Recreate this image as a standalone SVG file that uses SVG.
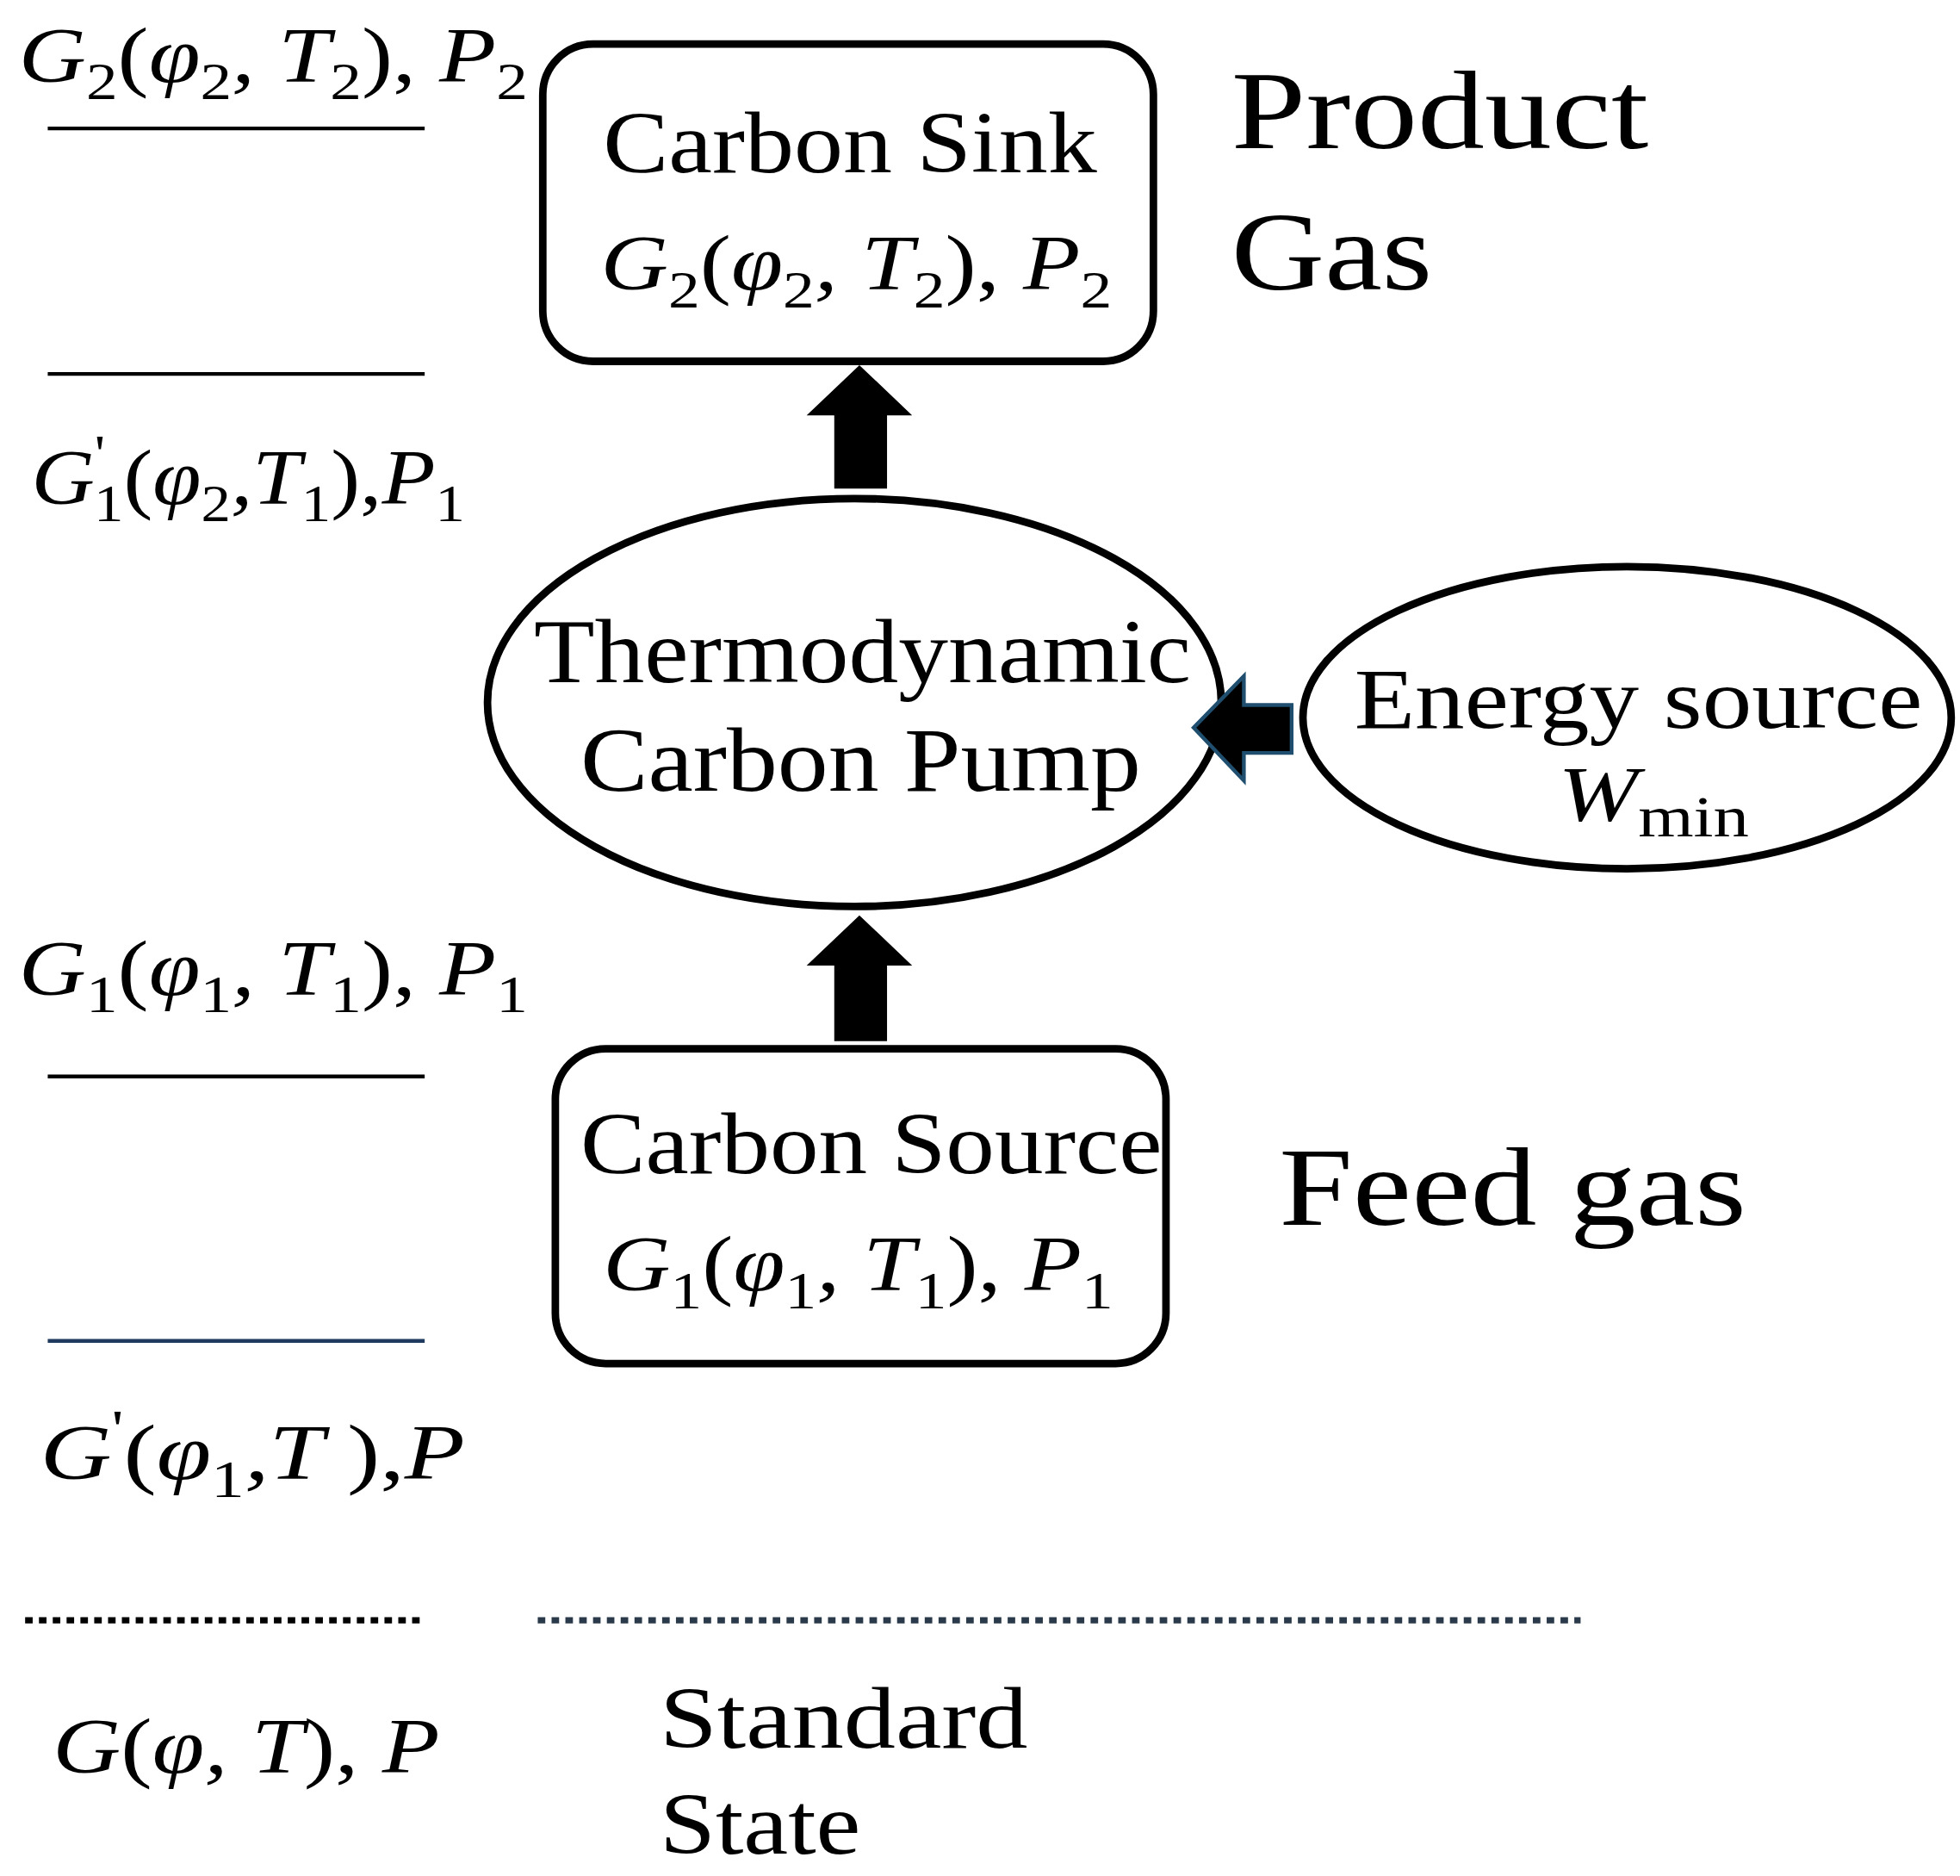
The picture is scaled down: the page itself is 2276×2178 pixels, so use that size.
<svg xmlns="http://www.w3.org/2000/svg" width="2276" height="2178" viewBox="0 0 2276 2178">
<style>
text{font-family:"Liberation Serif","DejaVu Serif",serif;fill:#000}
.m{font-style:italic;font-size:62px}
.s{font-size:42px;font-style:normal}
.n{font-style:normal}
.big{font-size:88px}
.node{fill:#fff;stroke:#000;stroke-width:6}
</style>
<rect width="2276" height="2178" fill="#fff"/>
<g transform="scale(1.459,1.4617)">
<g id="levels" stroke-width="3">
<line x1="38" y1="102" x2="338" y2="102" stroke="#000"/>
<line x1="38" y1="297" x2="338" y2="297" stroke="#000"/>
<line x1="38" y1="855" x2="338" y2="855" stroke="#000"/>
<line x1="38" y1="1065" x2="338" y2="1065" stroke="#1f3a5f"/>
<line x1="20" y1="1287" x2="338" y2="1287" stroke="#000" stroke-width="5" stroke-dasharray="6,5"/>
<line x1="428" y1="1287" x2="1258" y2="1287" stroke="#2a3a4a" stroke-width="5" stroke-dasharray="6,5"/>
</g>
<g id="level-labels">
<text x="15" y="65" class="m" textLength="405" lengthAdjust="spacingAndGlyphs">G<tspan class="s" dy="14">2</tspan><tspan class="n" dy="-14">(</tspan>φ<tspan class="s" dy="14">2</tspan><tspan dy="-14">, T</tspan><tspan class="s" dy="14">2</tspan><tspan class="n" dy="-14">), </tspan>P<tspan class="s" dy="14">2</tspan></text>
<text x="25" y="400" class="m" textLength="345" lengthAdjust="spacingAndGlyphs">G<tspan class="s" dy="-26">'</tspan><tspan class="s" dx="-8" dy="40">1</tspan><tspan class="n" dy="-14">(</tspan>φ<tspan class="s" dy="14">2</tspan><tspan dy="-14">,T</tspan><tspan class="s" dy="14">1</tspan><tspan class="n" dy="-14">),</tspan>P<tspan class="s" dy="14">1</tspan></text>
<text x="15" y="790" class="m" textLength="405" lengthAdjust="spacingAndGlyphs">G<tspan class="s" dy="14">1</tspan><tspan class="n" dy="-14">(</tspan>φ<tspan class="s" dy="14">1</tspan><tspan dy="-14">, T</tspan><tspan class="s" dy="14">1</tspan><tspan class="n" dy="-14">), </tspan>P<tspan class="s" dy="14">1</tspan></text>
<text x="32" y="1175" class="m" textLength="338" lengthAdjust="spacingAndGlyphs">G<tspan class="s" dy="-26">'</tspan><tspan class="n" dy="26">(</tspan>φ<tspan class="s" dy="14">1</tspan><tspan dy="-14">,T </tspan><tspan class="n">),</tspan>P</text>
<text x="42" y="1408" class="m" textLength="308" lengthAdjust="spacingAndGlyphs">G<tspan class="n">(</tspan>φ, T<tspan class="n">), </tspan>P</text>
</g>
<g id="sink">
<rect x="432" y="35" width="486" height="252" rx="40" class="node"/>
<text x="480" y="137" font-size="70" textLength="393" lengthAdjust="spacingAndGlyphs">Carbon Sink</text>
<text x="478" y="230" class="m" font-size="64" textLength="407" lengthAdjust="spacingAndGlyphs">G<tspan class="s" dy="14">2</tspan><tspan class="n" dy="-14">(</tspan>φ<tspan class="s" dy="14">2</tspan><tspan dy="-14">, T</tspan><tspan class="s" dy="14">2</tspan><tspan class="n" dy="-14">), </tspan>P<tspan class="s" dy="14">2</tspan></text>
</g>
<g id="pump">
<ellipse cx="680" cy="558" rx="292" ry="162" class="node" stroke-width="7"/>
<text x="425" y="542" font-size="72" textLength="523" lengthAdjust="spacingAndGlyphs">Thermodynamic</text>
<text x="462" y="628" font-size="72" textLength="446" lengthAdjust="spacingAndGlyphs">Carbon Pump</text>
</g>
<g id="energy">
<ellipse cx="1295" cy="570" rx="258" ry="120" class="node" stroke-width="5"/>
<text x="1078" y="578" font-size="68" textLength="452" lengthAdjust="spacingAndGlyphs">Energy source</text>
<text x="1240" y="652" class="m" font-size="68" textLength="152" lengthAdjust="spacingAndGlyphs">W<tspan class="n" font-size="46" dy="12">min</tspan></text>
</g>
<g id="source">
<rect x="442" y="833" width="486" height="250" rx="40" class="node"/>
<text x="462" y="932" font-size="70" textLength="463" lengthAdjust="spacingAndGlyphs">Carbon Source</text>
<text x="480" y="1025" class="m" font-size="64" textLength="406" lengthAdjust="spacingAndGlyphs">G<tspan class="s" dy="14">1</tspan><tspan class="n" dy="-14">(</tspan>φ<tspan class="s" dy="14">1</tspan><tspan dy="-14">, T</tspan><tspan class="s" dy="14">1</tspan><tspan class="n" dy="-14">), </tspan>P<tspan class="s" dy="14">1</tspan></text>
</g>
<g id="side-labels">
<text x="980" y="118" class="big" textLength="332" lengthAdjust="spacingAndGlyphs">Product</text>
<text x="980" y="230" class="big" textLength="160" lengthAdjust="spacingAndGlyphs">Gas</text>
<text x="1018" y="973" class="big" textLength="372" lengthAdjust="spacingAndGlyphs">Feed gas</text>
<text x="525" y="1388" font-size="70" textLength="293" lengthAdjust="spacingAndGlyphs">Standard</text>
<text x="525" y="1472" font-size="70" textLength="160" lengthAdjust="spacingAndGlyphs">State</text>
</g>
<g id="connectors">
<polygon points="684,290 726,330 706,330 706,388 664,388 664,330 642,330" fill="#000"/>
<polygon points="684,727 726,767 706,767 706,827 664,827 664,767 642,767" fill="#000"/>
<polygon points="950,578 990,537 990,560 1028,560 1028,598 990,598 990,620" fill="#000" stroke="#1f4e6e" stroke-width="3"/>
</g>
</g>
</svg>
